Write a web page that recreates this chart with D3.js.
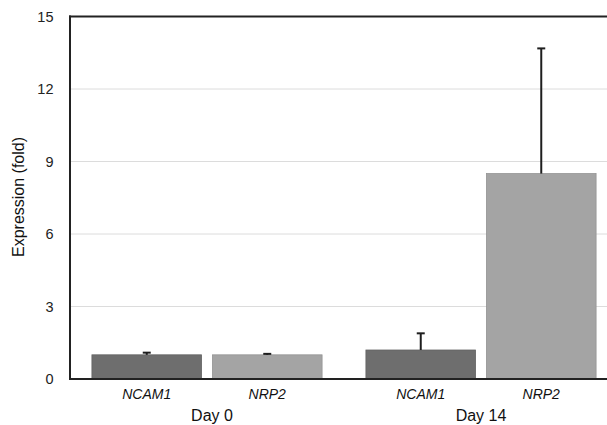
<!DOCTYPE html>
<html>
<head>
<meta charset="utf-8">
<script src="https://cdn.jsdelivr.net/npm/d3@7"></script>
<style>
  html, body { margin: 0; padding: 0; background: #fff; }
  svg { display: block; font-family: "Liberation Sans", Arial, Helvetica, sans-serif; }
</style>
</head>
<body>
<svg id="chart" width="607" height="425"></svg>
<script>
// Fold expression of two genes at two time points (mean and upper error)
const groups = ["Day 0", "Day 14"];
const genes = ["NCAM1", "NRP2"];
const meanDay0 = [1.0, 1.0];
const meanDay14 = [1.2, 8.5];
const errDay0 = [0.09, 0.04];
const errDay14 = [0.69, 5.18];
const yTicks = [0, 3, 6, 9, 12, 15];

const geneColors = { NCAM1: "#6e6e6e", NRP2: "#a4a4a4" };

const rows = [
  { group: groups[0], values: meanDay0, errs: errDay0 },
  { group: groups[1], values: meanDay14, errs: errDay14 }
].flatMap(r => genes.map((g, i) => ({ group: r.group, gene: g, value: r.values[i], err: r.errs[i] })));

const svg = d3.select("#chart");
const plotLeft = 70, plotRight = 618, plotTop = 16.5, plotBottom = 379;

const x0 = d3.scaleBand().domain(groups).range([plotLeft, plotRight])
  .paddingInner(0.16).paddingOuter(0.08);
const x1 = d3.scaleBand().domain(genes).range([0, x0.bandwidth()]).paddingInner(0.09);
const y = d3.scaleLinear().domain([0, 15]).range([plotBottom, plotTop]);

// horizontal gridlines
svg.append("g")
  .selectAll("line")
  .data(yTicks.filter(t => t > 0 && t < 15))
  .join("line")
  .attr("x1", plotLeft).attr("x2", 607)
  .attr("y1", d => y(d)).attr("y2", d => y(d))
  .attr("stroke", "#dcdcdc").attr("stroke-width", 1);

// bars
svg.append("g")
  .selectAll("rect")
  .data(rows)
  .join("rect")
  .attr("x", d => x0(d.group) + x1(d.gene))
  .attr("y", d => y(d.value))
  .attr("width", x1.bandwidth())
  .attr("height", d => y(0) - y(d.value))
  .attr("fill", d => geneColors[d.gene])
  .attr("stroke", d => d3.color(geneColors[d.gene]).darker(0.3))
  .attr("stroke-width", 0.8);

// upper error bars
const eb = svg.append("g").attr("stroke", "#1e1e1e").attr("stroke-width", 2);
eb.selectAll("line.stem")
  .data(rows)
  .join("line")
  .attr("class", "stem")
  .attr("x1", d => x0(d.group) + x1(d.gene) + x1.bandwidth() / 2)
  .attr("x2", d => x0(d.group) + x1(d.gene) + x1.bandwidth() / 2)
  .attr("y1", d => y(d.value))
  .attr("y2", d => y(d.value + d.err));
eb.selectAll("line.cap")
  .data(rows)
  .join("line")
  .attr("class", "cap")
  .attr("x1", d => x0(d.group) + x1(d.gene) + x1.bandwidth() / 2 - 4)
  .attr("x2", d => x0(d.group) + x1(d.gene) + x1.bandwidth() / 2 + 4)
  .attr("y1", d => y(d.value + d.err))
  .attr("y2", d => y(d.value + d.err));

// axes frame: left, bottom, top
const yAxis = d3.axisLeft(y).tickValues(yTicks).tickSize(0).tickPadding(16.5);
const gy = svg.append("g").attr("transform", `translate(${plotLeft},0)`).call(yAxis);
gy.select(".domain").remove();
gy.selectAll("text").attr("font-size", 14.5).attr("fill", "#222")
  .attr("font-family", "'Liberation Sans', Arial, sans-serif");

svg.append("line").attr("x1", plotLeft).attr("x2", plotLeft)
  .attr("y1", plotTop - 1).attr("y2", plotBottom + 1)
  .attr("stroke", "#222").attr("stroke-width", 2);
svg.append("line").attr("x1", plotLeft - 1).attr("x2", 607)
  .attr("y1", plotBottom).attr("y2", plotBottom)
  .attr("stroke", "#222").attr("stroke-width", 2);
svg.append("line").attr("x1", plotLeft - 1).attr("x2", 607)
  .attr("y1", plotTop).attr("y2", plotTop)
  .attr("stroke", "#222").attr("stroke-width", 2);

// gene labels
svg.append("g")
  .selectAll("text")
  .data(rows)
  .join("text")
  .attr("x", d => x0(d.group) + x1(d.gene) + x1.bandwidth() / 2)
  .attr("y", 399)
  .attr("text-anchor", "middle")
  .attr("font-size", 14)
  .attr("font-style", "italic")
  .attr("fill", "#111")
  .text(d => d.gene);

// group labels
svg.append("g")
  .selectAll("text")
  .data(groups)
  .join("text")
  .attr("x", d => x0(d) + x0.bandwidth() / 2 + (d === "Day 0" ? 5 : 0))
  .attr("y", 421)
  .attr("text-anchor", "middle")
  .attr("font-size", 16)
  .attr("fill", "#111")
  .text(d => d);

// y-axis title
svg.append("text")
  .attr("transform", "translate(24,197) rotate(-90)")
  .attr("text-anchor", "middle")
  .attr("font-size", 16)
  .attr("fill", "#111")
  .text("Expression (fold)");
</script>
</body>
</html>
